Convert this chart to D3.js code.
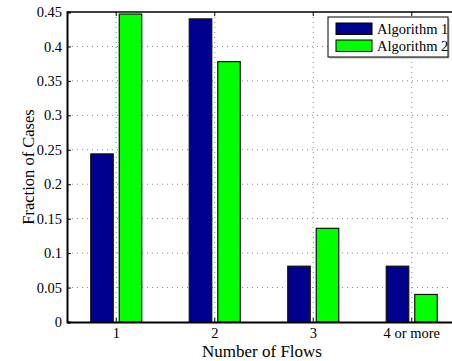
<!DOCTYPE html>
<html>
<head>
<meta charset="utf-8">
<script src="https://cdn.jsdelivr.net/npm/d3@7"></script>
<style>
  body { margin: 0; background: #fff; }
  svg { display: block; }
  svg text { font-family: "Liberation Serif", "DejaVu Serif", serif !important; fill: #000; }
</style>
</head>
<body>
<div id="chart"></div>
<script>
const categories = ["1", "2", "3", "4 or more"];
const series = ["Algorithm 1", "Algorithm 2"];
const alg1 = [0.244, 0.440, 0.081, 0.081];
const alg2 = [0.447, 0.378, 0.136, 0.040];
const yTicks = [0, 0.05, 0.1, 0.15, 0.2, 0.25, 0.3, 0.35, 0.4, 0.45];
const colors = ["#00008f", "#00ff00"];

const svgWidth = 452;
const svgHeight = 361;

// plot box runs past the right edge of the picture, like the original
const margin = { top: 12, left: 67 };
const width = 394;
const height = 310;

const svg = d3.select("#chart")
  .append("svg")
  .attr("width", svgWidth)
  .attr("height", svgHeight);

const g = svg.append("g")
  .attr("transform", `translate(${margin.left}, ${margin.top})`);

const x = d3.scaleBand()
  .domain(categories)
  .range([0, width]);

const xSub = d3.scaleBand()
  .domain(series)
  .range([0, 51])
  .paddingInner(0.21);

const y = d3.scaleLinear()
  .domain([0, 0.45])
  .range([height, 0]);

// grid
g.append("g")
  .selectAll("line")
  .data(yTicks.slice(1, -1))
  .enter()
  .append("line")
  .attr("x1", 0)
  .attr("x2", width)
  .attr("y1", d => y(d))
  .attr("y2", d => y(d))
  .attr("stroke", "#888")
  .attr("stroke-dasharray", "1,4");

g.append("g")
  .selectAll("line")
  .data(categories)
  .enter()
  .append("line")
  .attr("x1", d => x(d) + x.bandwidth() / 2)
  .attr("x2", d => x(d) + x.bandwidth() / 2)
  .attr("y1", 0)
  .attr("y2", height)
  .attr("stroke", "#888")
  .attr("stroke-dasharray", "1,4");

// bars
const rows = categories.map((c, i) => ({ cat: c, vals: [alg1[i], alg2[i]] }));

const groups = g.selectAll(".grp")
  .data(rows)
  .enter()
  .append("g")
  .attr("transform", d => `translate(${x(d.cat) + x.bandwidth() / 2 - 25.5}, 0)`);

groups.selectAll("rect")
  .data(d => d.vals.map((v, j) => ({ s: series[j], v: v, j: j })))
  .enter()
  .append("rect")
  .attr("x", d => xSub(d.s))
  .attr("width", xSub.bandwidth())
  .attr("y", d => y(d.v))
  .attr("height", d => height - y(d.v))
  .attr("fill", d => colors[d.j])
  .attr("stroke", "#111")
  .attr("stroke-width", 1.2);

// axes
const bottomAxis = d3.axisBottom(x).tickSize(0).tickPadding(6);
const leftAxis = d3.axisLeft(y).tickValues(yTicks).tickFormat(d => String(+d.toFixed(2))).tickSize(-4).tickPadding(5);

const xAxis = g.append("g")
  .attr("transform", `translate(0, ${height})`)
  .call(bottomAxis);

const yAxis = g.append("g").call(leftAxis);

[xAxis, yAxis].forEach(a => {
  a.attr("font-family", null);
  a.select(".domain").attr("stroke", "#000").attr("stroke-width", 2);
  a.selectAll("text").attr("font-size", 14.5);
  a.selectAll(".tick line").attr("stroke", "#000");
});

// top frame with ticks
g.append("line")
  .attr("x1", 0).attr("x2", width)
  .attr("y1", 0).attr("y2", 0)
  .attr("stroke", "#000").attr("stroke-width", 1.5);

g.append("g")
  .selectAll("line")
  .data(categories)
  .enter()
  .append("line")
  .attr("x1", d => x(d) + x.bandwidth() / 2)
  .attr("x2", d => x(d) + x.bandwidth() / 2)
  .attr("y1", 0).attr("y2", 4)
  .attr("stroke", "#000");

g.append("g")
  .selectAll("line")
  .data(categories)
  .enter()
  .append("line")
  .attr("x1", d => x(d) + x.bandwidth() / 2)
  .attr("x2", d => x(d) + x.bandwidth() / 2)
  .attr("y1", height).attr("y2", height - 4)
  .attr("stroke", "#000");

// axis labels
svg.append("text")
  .attr("transform", `translate(28, ${margin.top + height / 2}) rotate(-90)`)
  .attr("text-anchor", "middle")
  .attr("dy", "0.35em")
  .attr("font-size", 16.5)
  .text("Fraction of Cases");

svg.append("text")
  .attr("x", margin.left + width / 2 - 2)
  .attr("y", 357)
  .attr("text-anchor", "middle")
  .attr("font-size", 17)
  .text("Number of Flows");

// legend
const legend = svg.append("g").attr("transform", "translate(328, 17)");

legend.append("rect")
  .attr("x", 1.5).attr("y", 1.5)
  .attr("width", 120).attr("height", 40)
  .attr("fill", "#bbb");

legend.append("rect")
  .attr("width", 120).attr("height", 40)
  .attr("fill", "#fff")
  .attr("stroke", "#000");

legend.selectAll(".sw")
  .data(series)
  .enter()
  .append("rect")
  .attr("x", 8)
  .attr("y", (d, i) => 6 + i * 17)
  .attr("width", 36)
  .attr("height", 11.5)
  .attr("fill", (d, i) => colors[i])
  .attr("stroke", "#000");

legend.selectAll(".lt")
  .data(series)
  .enter()
  .append("text")
  .attr("x", 49)
  .attr("y", (d, i) => 16.5 + i * 17)
  .attr("font-size", 14.5)
  .text(d => d);
</script>
</body>
</html>
